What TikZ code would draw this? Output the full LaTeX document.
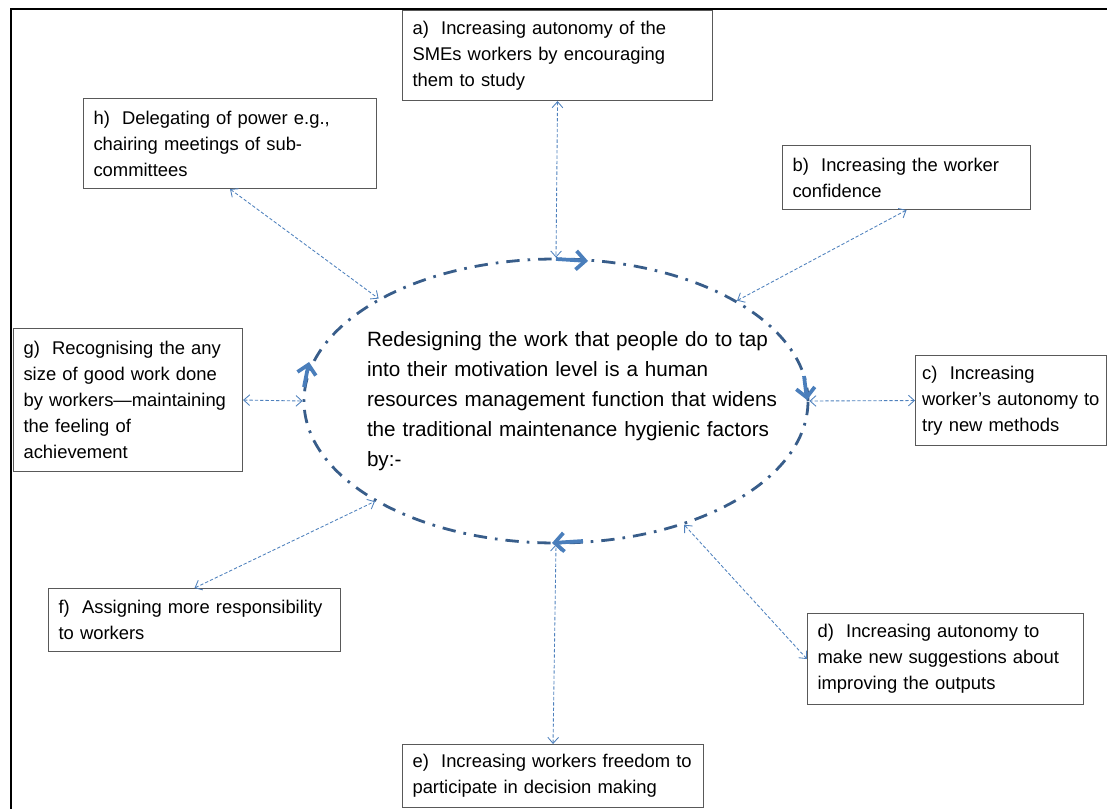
\documentclass[tikz,border=0pt]{standalone}
\usepackage{fontspec}
\setmainfont{Liberation Sans}
\usepackage{tikz}
\usetikzlibrary{shapes.geometric, arrows.meta}
\definecolor{ringblue}{RGB}{56,93,138}
\definecolor{turnblue}{RGB}{74,126,187}
\definecolor{linkblue}{RGB}{79,129,189}
\tikzstyle{idea} = [rectangle, anchor=north west, draw=black!65, line width=0.8pt, fill=white, align=left, inner xsep=7.5pt, inner ysep=3pt, font=\fontsize{13.8}{19.5}\selectfont]
\tikzstyle{ring} = [ellipse, draw=ringblue, line width=2.1pt, dash pattern=on 10pt off 6pt on 2pt off 6pt, minimum width=378pt, minimum height=213pt, inner sep=0pt]
\tikzstyle{turn} = [line width=2.8pt, draw=turnblue, -{Straight Barb[length=7pt,width=14pt]}]
\tikzstyle{link} = [line width=0.65pt, draw=linkblue, dash pattern=on 2.5pt off 1.5pt, {Straight Barb[length=4.5pt,width=8pt]}-{Straight Barb[length=4.5pt,width=8pt]}]

\begin{document}
\begin{tikzpicture}[x=0.75pt, y=-0.75pt]
        \useasboundingbox (0,0) rectangle (1107,809);
        \draw [line width=1.5pt] (11,809) -- (11,9) -- (1107,9);

        \node (core) [ring] at (556,401) {};
        \node (gist) [text width=315pt, align=left, font=\fontsize{15.5}{22.5}\selectfont] at (577,401) {Redesigning the work that people do to tap\\into their motivation level is a human\\resources management function that widens\\the traditional maintenance hygienic factors\\by:-};

        \draw [turn] (556,259) -- (588,261);
        \draw [turn] (804,376) -- (807,400);
        \draw [turn] (583,541) -- (552,543);
        \draw [turn] (304,387) -- (309,362);

        \node (a) [idea, minimum width=232.5pt, minimum height=67.5pt, text width=217.5pt] at (402,10) {a)~ Increasing autonomy of the\\SMEs workers by encouraging\\them to study};
        \node (b) [idea, minimum width=186pt, minimum height=48pt, text width=171pt] at (782,145) {b)~ Increasing the worker\\confidence};
        \node (c) [idea, inner xsep=5pt, minimum width=143.25pt, minimum height=67.5pt, text width=133.25pt] at (915,355) {c)~ Increasing\\worker’s autonomy to\\try new methods};
        \node (d) [idea, minimum width=207pt, minimum height=68.25pt, text width=192pt] at (807,613) {d)~ Increasing autonomy to\\make new suggestions about\\improving the outputs};
        \node (e) [idea, minimum width=225.75pt, minimum height=47.25pt, text width=210.75pt] at (402,744) {e)~ Increasing workers freedom to\\participate in decision making};
        \node (f) [idea, minimum width=219pt, minimum height=47.25pt, text width=204pt] at (48,588) {f)~ Assigning more responsibility\\to workers};
        \node (g) [idea, minimum width=171.75pt, minimum height=107.25pt, text width=156.75pt] at (13,328) {g)~ Recognising the any\\size of good work done\\by workers—maintaining\\the feeling of\\achievement};
        \node (h) [idea, minimum width=219.75pt, minimum height=67.5pt, text width=204.75pt] at (83,98) {h)~ Delegating of power e.g.,\\chairing meetings of sub-\\committees};

        \draw [link] (a.south) -- (core.north);
        \draw [link] (b.south) -- (core.29);
        \draw [link] (c.west) -- (core.east);
        \draw [link] (d.west) -- (core.-44);
        \draw [link] (e.north) -- (core.south);
        \draw [link] (f.north) -- (core.209.6);
        \draw [link] (g.east) -- (core.west);
        \draw [link] (h.south) -- (core.150.7);
\end{tikzpicture}
\end{document}
